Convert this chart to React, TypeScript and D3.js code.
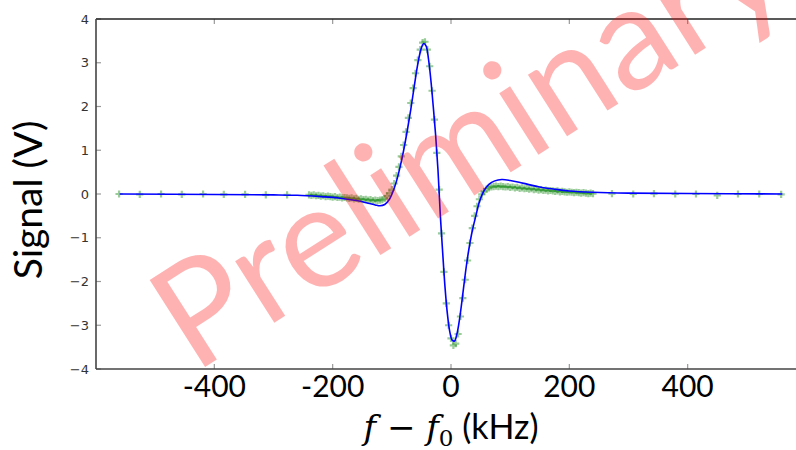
import React, { useEffect, useRef } from 'react';
import * as d3 from 'd3';

// sparse measurement points outside the scan window (kHz, V)
const sparseX = [-561, -526, -490, -455, -419, -384, -348, -313, -277, 272, 308, 343, 379, 414, 450, 485, 521, 558];
const sparseY = [0.0, -0.01, 0.0, -0.01, 0.0, -0.01, -0.01, -0.02, -0.02, 0.01, 0.0, 0.01, 0.0, 0.0, -0.03, 0.0, 0.0, -0.01];

// dense measurement points around resonance
const denseX = [
  -240, -236, -232, -228, -224, -220, -216, -212, -208, -204, -200, -196, -192, -188, -184, -180,
  -176, -172, -168, -164, -160, -156, -152, -148, -144, -140, -136, -132, -128, -124, -120, -116,
  -112, -108, -104, -100, -96, -92, -88, -84, -80, -76, -72, -68, -64, -60, -56, -52,
  -48, -44, -40, -36, -32, -28, -24, -20, -16, -12, -8, -4, 0, 4, 8, 12,
  16, 20, 24, 28, 32, 36, 40, 44, 48, 52, 56, 60, 64, 68, 72, 76,
  80, 84, 88, 92, 96, 100, 104, 108, 112, 116, 120, 124, 128, 132, 136, 140,
  144, 148, 152, 156, 160, 164, 168, 172, 176, 180, 184, 188, 192, 196, 200, 204,
  208, 212, 216, 220, 224, 228, 232, 236, 240
];
const denseY = [
  -0.02, -0.03, -0.02, -0.04, -0.03, -0.05, -0.04, -0.06, -0.05, -0.06, -0.07, -0.06, -0.08, -0.07, -0.09, -0.08,
  -0.09, -0.1, -0.09, -0.11, -0.1, -0.12, -0.11, -0.13, -0.12, -0.14, -0.13, -0.15, -0.14, -0.15, -0.14, -0.13,
  -0.1, -0.05, 0.02, 0.1, 0.24, 0.42, 0.62, 0.86, 1.12, 1.42, 1.74, 2.08, 2.42, 2.76, 3.06, 3.3,
  3.46, 3.48, 3.3, 2.92, 2.36, 1.7, 0.94, 0.1, -0.9, -1.78, -2.5, -3.0, -3.3, -3.46, -3.42, -3.2,
  -2.8, -2.38, -1.96, -1.52, -1.12, -0.78, -0.5, -0.28, -0.12, -0.01, 0.06, 0.11, 0.14, 0.16, 0.17, 0.18,
  0.17, 0.18, 0.17, 0.16, 0.17, 0.15, 0.16, 0.14, 0.15, 0.13, 0.14, 0.12, 0.13, 0.11, 0.12, 0.1,
  0.11, 0.09, 0.1, 0.08, 0.09, 0.07, 0.08, 0.07, 0.06, 0.07, 0.05, 0.06, 0.05, 0.04, 0.05, 0.04,
  0.03, 0.04, 0.03, 0.02, 0.03, 0.02, 0.01, 0.02, 0.01
];

// fitted line shape
const fitX = [
  -560, -400, -300, -260, -220, -190, -160, -140, -128, -120, -112, -104, -98, -92, -86, -80,
  -74, -68, -62, -56, -50, -46, -42, -38, -34, -30, -26, -22, -18, -14, -10, -6,
  -2, 2, 6, 10, 14, 18, 22, 26, 30, 36, 42, 48, 56, 64, 74, 86,
  100, 115, 130, 150, 175, 200, 240, 300, 400, 560
];
const fitY = [
  0.0, -0.01, -0.02, -0.03, -0.06, -0.09, -0.15, -0.21, -0.25, -0.27, -0.24, -0.12, 0.06, 0.3, 0.62, 1.0,
  1.44, 1.93, 2.47, 2.98, 3.34, 3.44, 3.38, 3.08, 2.6, 2.0, 1.35, 0.55, -0.5, -1.35, -2.15, -2.75,
  -3.15, -3.34, -3.36, -3.2, -2.9, -2.5, -2.06, -1.64, -1.28, -0.84, -0.5, -0.18, 0.08, 0.22, 0.3, 0.33,
  0.31, 0.27, 0.22, 0.16, 0.11, 0.07, 0.04, 0.02, 0.01, 0.0
];

const xTicks = [-400, -200, 0, 200, 400];
const yTicks = [-4, -3, -2, -1, 0, 1, 2, 3, 4];

const App = () => {
  const svgRef = useRef<SVGSVGElement>(null);

  useEffect(() => {
    const svg = d3.select(svgRef.current);
    svg.selectAll('*').remove();

    const left = 96, right = 806, top = 19, bottom = 369;

    const x = d3.scaleLinear().domain([-600, 600]).range([left, right]);
    const y = d3.scaleLinear().domain([-4, 4]).range([bottom, top]);

    // ticks (inside, matplotlib classic)
    const g = svg.append('g');
    xTicks.forEach(t => {
      g.append('line').attr('x1', x(t)).attr('x2', x(t)).attr('y1', bottom).attr('y2', bottom - 5)
        .attr('stroke', '#999').attr('stroke-width', 1.2);
      g.append('line').attr('x1', x(t)).attr('x2', x(t)).attr('y1', top).attr('y2', top + 5)
        .attr('stroke', '#999').attr('stroke-width', 1.2);
      g.append('text')
        .attr('x', x(t)).attr('y', 397)
        .attr('text-anchor', 'middle')
        .style('font-family', 'Lato, sans-serif')
        .style('font-size', '30px')
        .attr('fill', '#000')
        .text(t < 0 ? `-${Math.abs(t)}` : `${t}`);
    });
    yTicks.forEach(t => {
      g.append('line').attr('x1', left).attr('x2', left + 5).attr('y1', y(t)).attr('y2', y(t))
        .attr('stroke', '#999').attr('stroke-width', 1.2);
      g.append('text')
        .attr('x', 89).attr('y', y(t)).attr('dy', '0.36em')
        .attr('text-anchor', 'end')
        .style('font-family', '"DejaVu Sans", sans-serif')
        .style('font-size', '13px')
        .attr('fill', '#333')
        .text(t < 0 ? `\u2212${Math.abs(t)}` : `${t}`);
    });

    // frame
    g.append('line').attr('x1', left).attr('x2', right).attr('y1', top).attr('y2', top)
      .attr('stroke', '#222').attr('stroke-width', 1.6);
    g.append('line').attr('x1', left).attr('x2', right).attr('y1', bottom).attr('y2', bottom)
      .attr('stroke', '#444').attr('stroke-width', 1.6);
    g.append('line').attr('x1', left).attr('x2', left).attr('y1', top).attr('y2', bottom)
      .attr('stroke', '#444').attr('stroke-width', 1.6);

    // data markers
    const pts = [
      ...sparseX.map((v, i) => ({ f: v, s: sparseY[i] })),
      ...denseX.map((v, i) => ({ f: v, s: denseY[i] }))
    ];
    const m = 3.6;
    const marks = svg.append('g').attr('stroke', 'green').attr('stroke-opacity', 0.4).attr('stroke-width', 2.2);
    marks.selectAll('path.plus')
      .data(pts)
      .enter()
      .append('path')
      .attr('class', 'plus')
      .attr('d', d => {
        const cx = x(d.f), cy = y(d.s);
        return `M${cx - m},${cy}H${cx + m}M${cx},${cy - m}V${cy + m}`;
      });

    // fit line
    const fit = fitX.map((v, i) => ({ f: v, s: fitY[i] }));
    const line = d3.line<{ f: number; s: number }>()
      .x(d => x(d.f))
      .y(d => y(d.s))
      .curve(d3.curveCatmullRom.alpha(0.5));
    svg.append('path')
      .datum(fit)
      .attr('d', line)
      .attr('fill', 'none')
      .attr('stroke', '#0000ff')
      .attr('stroke-width', 1.6);

    // axis labels
    svg.append('text')
      .attr('transform', 'translate(42,200) rotate(-90)')
      .attr('text-anchor', 'middle')
      .style('font-family', 'Lato, sans-serif')
      .style('font-size', '39px')
      .attr('fill', '#000')
      .text('Signal (V)');

    const xl = svg.append('text')
      .attr('x', 451).attr('y', 439)
      .attr('text-anchor', 'middle')
      .style('font-size', '34px')
      .attr('fill', '#000');
    xl.append('tspan').style('font-family', '"DejaVu Serif", serif').style('font-style', 'italic').text('f');
    xl.append('tspan').style('font-family', '"DejaVu Serif", serif').text(' \u2212 ');
    xl.append('tspan').style('font-family', '"DejaVu Serif", serif').style('font-style', 'italic').text('f');
    xl.append('tspan').style('font-family', '"DejaVu Serif", serif').style('font-size', '23px').attr('dy', 7).text('0');
    xl.append('tspan').style('font-family', 'Lato, sans-serif').attr('dy', -7).text(' (kHz)');

    // watermark
    svg.append('text')
      .attr('transform', 'translate(194,374) rotate(-32.5)')
      .style('font-family', 'Lato, sans-serif')
      .style('font-size', '144px')
      .attr('fill', '#ff0000')
      .attr('fill-opacity', 0.3)
      .text('Preliminary');
  }, []);

  return (
    <svg
      ref={svgRef}
      width={796}
      height={450}
      style={{ position: 'absolute', left: 0, top: 0, background: '#fff' }}
    />
  );
};

export default App;
